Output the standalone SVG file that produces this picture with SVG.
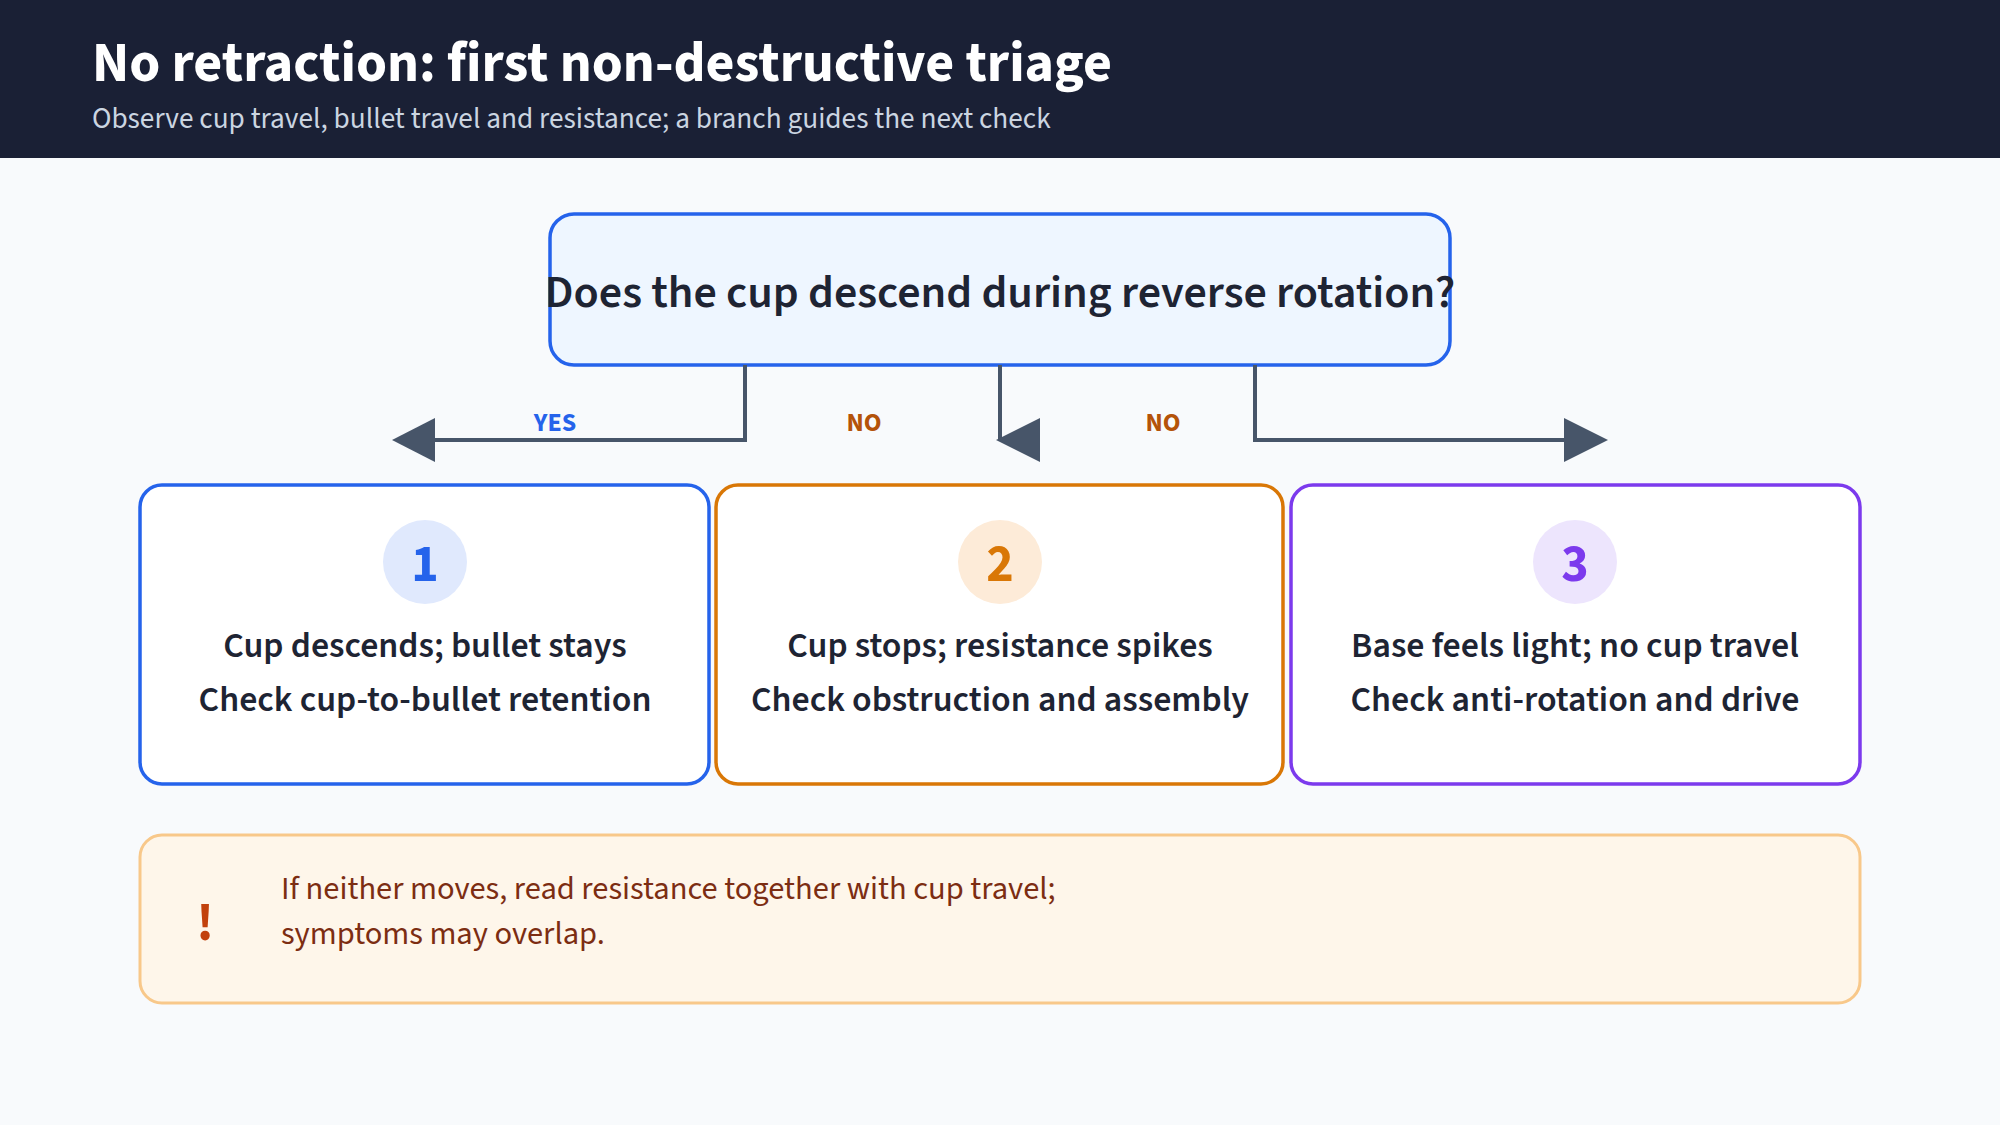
<svg xmlns="http://www.w3.org/2000/svg" width="2000" height="1125" viewBox="0 0 2000 1125">
<style>
text{font-family:"Source Sans 3","Noto Sans","Liberation Sans",sans-serif}
.card{fill:#fff;stroke-width:3.5}
.t{font-size:35.8px;font-weight:600;fill:#1e2433;text-anchor:middle}
.num{font-size:52px;font-weight:700;text-anchor:middle}
.lbl{font-size:26px;font-weight:700;text-anchor:middle}
.ln{fill:none;stroke:#475569;stroke-width:4}
.ah{fill:#475569}
</style>
<rect width="2000" height="1125" fill="#f8fafc"/>
<rect width="2000" height="158" fill="#1a2035"/>
<text x="92" y="81" font-size="56" font-weight="700" fill="#fff">No retraction: first non-destructive triage</text>
<text x="92" y="128" font-size="29.3" fill="#cbd5e1">Observe cup travel, bullet travel and resistance; a branch guides the next check</text>
<g id="question">
<rect x="550" y="214" width="900" height="151" rx="24" fill="#eef6ff" stroke="#2563eb" stroke-width="3.5"/>
<text x="1000" y="307" font-size="46" font-weight="600" fill="#1e2433" text-anchor="middle">Does the cup descend during reverse rotation?</text>
</g>
<g id="connectors">
<polyline class="ln" points="745,365 745,440 430,440"/>
<polygon class="ah" points="392,440 435,418 435,462"/>
<polyline class="ln" points="1000,365 1000,440"/>
<polygon class="ah" points="996,440 1040,418 1040,462"/>
<polyline class="ln" points="1255,365 1255,440 1570,440"/>
<polygon class="ah" points="1608,440 1564,418 1564,462"/>
<text class="lbl" x="555" y="431" fill="#2563eb">YES</text>
<text class="lbl" x="864" y="431" fill="#b45309">NO</text>
<text class="lbl" x="1163" y="431" fill="#b45309">NO</text>
</g>
<g id="card1">
<rect class="card" x="140" y="485" width="569" height="299" rx="22" stroke="#2563eb"/>
<circle cx="425" cy="562" r="42" fill="#e0e9fd"/>
<text class="num" x="425" y="581" fill="#2563eb">1</text>
<text class="t" x="425" y="657">Cup descends; bullet stays</text>
<text class="t" x="425" y="711">Check cup-to-bullet retention</text>
</g>
<g id="card2">
<rect class="card" x="716" y="485" width="567" height="299" rx="22" stroke="#d97706"/>
<circle cx="1000" cy="562" r="42" fill="#fdebd8"/>
<text class="num" x="1000" y="581" fill="#d97706">2</text>
<text class="t" x="1000" y="657">Cup stops; resistance spikes</text>
<text class="t" x="1000" y="711">Check obstruction and assembly</text>
</g>
<g id="card3">
<rect class="card" x="1291" y="485" width="569" height="299" rx="22" stroke="#7c3aed"/>
<circle cx="1575" cy="562" r="42" fill="#ede5fd"/>
<text class="num" x="1575" y="581" fill="#7c3aed">3</text>
<text class="t" x="1575" y="657">Base feels light; no cup travel</text>
<text class="t" x="1575" y="711">Check anti-rotation and drive</text>
</g>
<g id="note">
<rect x="140" y="835" width="1720" height="168" rx="22" fill="#fef6ea" stroke="#f8c88a" stroke-width="3"/>
<text x="205" y="940" font-size="52" font-weight="700" fill="#c2410c" text-anchor="middle">!</text>
<text x="281" y="899" font-size="32.5" fill="#7c2d12">If neither moves, read resistance together with cup travel;</text>
<text x="281" y="944" font-size="32.5" fill="#7c2d12">symptoms may overlap.</text>
</g>
</svg>
